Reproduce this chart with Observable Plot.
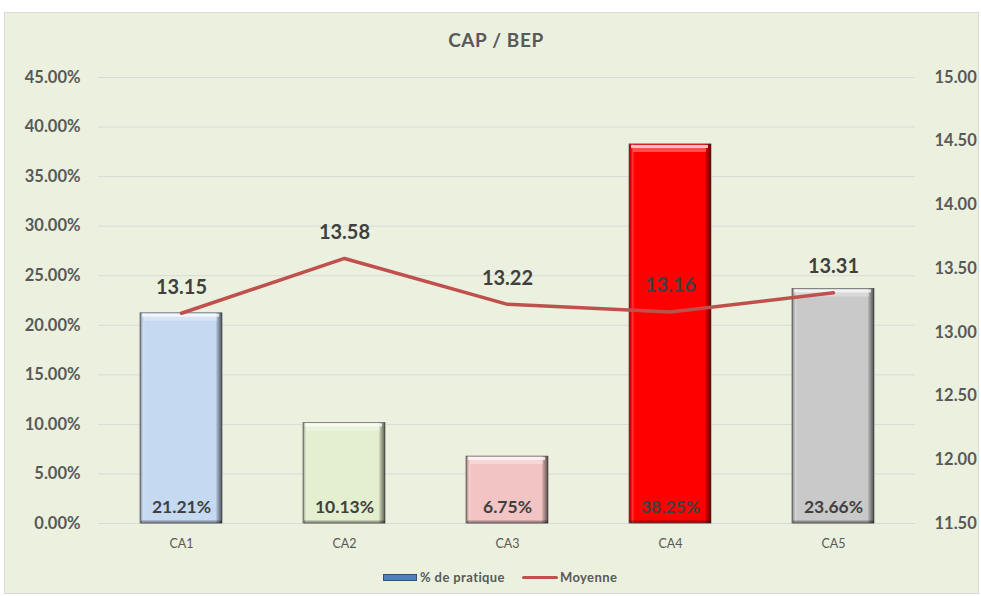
<!DOCTYPE html>
<html>
<head>
<meta charset="utf-8">
<script src="https://cdn.jsdelivr.net/npm/d3@7"></script>
<script src="https://cdn.jsdelivr.net/npm/@observablehq/plot@0.6"></script>
<style>
  body { margin: 0; background: #ffffff; font-family: Lato, "Open Sans", "DejaVu Sans", sans-serif; }
  #panel { position: absolute; left: 4px; top: 12px; width: 973px; height: 580px; background: #EBF1DE; border: 1px solid #D9D9D9; }
  #title { position: absolute; left: 0; top: 28px; width: 992px; text-align: center; font-weight: bold; font-size: 19px; letter-spacing: 0.6px; color: #595959; }
  #chart { position: absolute; left: 0; top: 0; }
  #legend { position: absolute; left: 383px; top: 569px; display: flex; align-items: center; font-size: 13px; font-weight: bold; letter-spacing: 0.4px; color: #595959; }
  .sw-bar { width: 32px; height: 5px; background: #4F81BD; border: 1px solid #2F4F7F; margin-right: 3px; }
  .sw-line { width: 36px; height: 3px; background: #C0504D; border-radius: 2px; margin-left: 17px; margin-right: 2px; }
</style>
</head>
<body>
<div id="panel"></div>
<div id="title">CAP / BEP</div>
<div id="chart"></div>
<div id="legend"><span class="sw-bar"></span><span>% de pratique</span><span class="sw-line"></span><span>Moyenne</span></div>
<script>
const categories = ["CA1", "CA2", "CA3", "CA4", "CA5"];
const pratique = [0.2121, 0.1013, 0.0675, 0.3825, 0.2366];
const moyenne = [13.15, 13.58, 13.22, 13.16, 13.31];
const barColors = ["#C5D9F1", "#E3EFCF", "#F2C4C4", "#FF0000", "#C9C9C9"];
const leftTicks = [0, 0.05, 0.10, 0.15, 0.20, 0.25, 0.30, 0.35, 0.40, 0.45];
const rightTicks = [11.5, 12, 12.5, 13, 13.5, 14, 14.5, 15];

const rMin = 11.5, rMax = 15, lMax = 0.45;
const toLeft = m => (m - rMin) / (rMax - rMin) * lMax;
const toRight = v => rMin + v / lMax * (rMax - rMin);

const data = categories.map((c, i) => ({cat: c, p: pratique[i], m: moyenne[i], color: barColors[i]}));

const defs = () => {
  const ns = "http://www.w3.org/2000/svg";
  const d = document.createElementNS(ns, "defs");
  d.innerHTML = `
    <linearGradient id="bevelH" x1="0" x2="1" y1="0" y2="0">
      <stop offset="0" stop-color="#000" stop-opacity="0.4"/>
      <stop offset="0.02" stop-color="#000" stop-opacity="0.15"/>
      <stop offset="0.04" stop-color="#fff" stop-opacity="0.2"/>
      <stop offset="0.07" stop-color="#fff" stop-opacity="0"/>
      <stop offset="0.92" stop-color="#000" stop-opacity="0"/>
      <stop offset="0.95" stop-color="#000" stop-opacity="0.25"/>
      <stop offset="1" stop-color="#000" stop-opacity="0.6"/>
    </linearGradient>`;
  return d;
};

const chart = Plot.plot({
  width: 981,
  height: 596,
  marginLeft: 98,
  marginRight: 66,
  marginTop: 77,
  marginBottom: 73,
  style: {background: "transparent", fontFamily: "Lato, 'Open Sans', sans-serif"},
  x: {domain: categories, paddingInner: 0.5, paddingOuter: 0.25, label: null},
  y: {domain: [0, lMax], label: null},
  color: {type: "identity"},
  marks: [
    defs,
    Plot.gridY(leftTicks, {stroke: "#D9D9D9", strokeOpacity: 1, strokeWidth: 1}),
    Plot.axisY(leftTicks, {anchor: "left", tickSize: 0, tickPadding: 18, fontSize: 16.5, fontWeight: "bold", fill: "#595959", label: null,
      letterSpacing: "0.3px", tickFormat: d => (d * 100).toFixed(2) + "%"}),
    Plot.axisY(rightTicks.map(toLeft), {anchor: "right", tickSize: 0, tickPadding: 19, fontSize: 16.5, fontWeight: "bold", fill: "#595959", label: null,
      letterSpacing: "0.3px", tickFormat: d => toRight(d).toFixed(2)}),
    Plot.axisX({tickSize: 0, tickPadding: 16, fontSize: 12.5, fill: "#595959", label: null}),
    Plot.barY(data, {x: "cat", y: "p", fill: "color", stroke: "#6F6F6F", strokeWidth: 0.8}),
    Plot.barY(data, {x: "cat", y: "p", fill: "url(#bevelH)"}),
    Plot.tickY(data, {x: "cat", y: "p", stroke: "#ffffff", strokeOpacity: 0.75, strokeWidth: 3, dy: 2, insetLeft: 2, insetRight: 3}),
    Plot.tickY(data, {x: "cat", y: "p", stroke: "#ffffff", strokeOpacity: 0.3, strokeWidth: 4, dy: 5.5, insetLeft: 4, insetRight: 5}),
    Plot.tickY(data, {x: "cat", y: 0, stroke: "#000000", strokeOpacity: 0.3, strokeWidth: 3, dy: -1.5, insetLeft: 1}),
    Plot.lineY(data, {x: "cat", y: d => toLeft(d.m), stroke: "#C0504D", strokeWidth: 3.5, strokeLinecap: "round", strokeLinejoin: "miter"}),
    Plot.text(data, {x: "cat", y: d => toLeft(d.m), text: d => d.m.toFixed(2), dy: -26, fontSize: 20, letterSpacing: "0.6px", fontWeight: "bold", fill: "#404040"}),
    Plot.text(data, {x: "cat", y: 0, text: d => (d.p * 100).toFixed(2) + "%", dy: -16, fontSize: 17.5, letterSpacing: "0.4px", fontWeight: "bold", fill: "#404040"})
  ]
});
document.getElementById("chart").appendChild(chart);
</script>
</body>
</html>
